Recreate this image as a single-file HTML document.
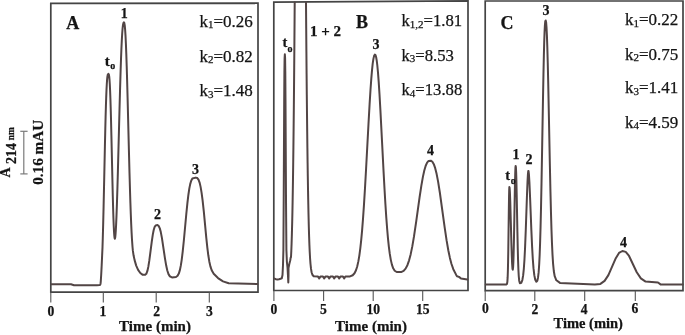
<!DOCTYPE html>
<html><head><meta charset="utf-8"><style>
html,body{margin:0;padding:0;background:#fff;width:685px;height:335px;overflow:hidden}
svg{display:block;filter:blur(0.35px)}
text{font-family:"Liberation Serif",serif;fill:#141414;stroke:#141414;stroke-width:0.25px}
.b{font-weight:bold}
</style></head><body>
<svg width="685" height="335" viewBox="0 0 685 335">
<rect width="685" height="335" fill="#fff"/>
<!-- scale bar / y label -->
<g stroke="#7a7a7a" stroke-width="1.2" fill="none">
<line x1="23.8" y1="131.3" x2="23.8" y2="173.9"/>
<line x1="20.3" y1="131.3" x2="27.6" y2="131.3"/>
<line x1="20.3" y1="173.9" x2="27.6" y2="173.9"/>
</g>
<text class="b" transform="translate(10.2,177.6) rotate(-90)" font-size="14">A<tspan dx="3.6" dy="5.5">214</tspan><tspan font-size="9.3" dx="2.6" dy="-1.8">nm</tspan></text>
<text class="b" transform="translate(42.8,184.8) rotate(-90)" font-size="15.2">0.16 mAU</text>

<!-- frames -->
<g stroke="#444444" stroke-width="1.7" fill="none" stroke-linecap="square">
<polyline points="50.8,3.4 258,3.2 258,292.2 50.8,292.2 50.8,3.4"/>
<polyline points="273.8,2.2 468,0.9 468,290.5 273.8,290.5 273.8,2.2"/>
<polyline points="485.2,1.0 683.0,1.0 683.0,290.7 485.2,290.7 485.2,1.0"/>
</g>
<g stroke="#555" stroke-width="1.1">
<line x1="50.8" y1="292.2" x2="50.8" y2="302.5"/><line x1="103.3" y1="292.2" x2="103.3" y2="302.5"/><line x1="156.2" y1="292.2" x2="156.2" y2="302.5"/><line x1="209.3" y1="292.2" x2="209.3" y2="302.5"/>
<line x1="273.9" y1="290.5" x2="273.9" y2="301"/><line x1="323.6" y1="290.5" x2="323.6" y2="301"/><line x1="373.2" y1="290.5" x2="373.2" y2="301"/><line x1="422.7" y1="290.5" x2="422.7" y2="301"/>
<line x1="485.2" y1="290.7" x2="485.2" y2="301"/><line x1="534.8" y1="290.7" x2="534.8" y2="301"/><line x1="584.7" y1="290.7" x2="584.7" y2="301"/><line x1="635.3" y1="290.7" x2="635.3" y2="301"/>
</g>

<!-- traces -->
<g stroke="#524545" stroke-width="2.0" fill="none" stroke-linejoin="round" stroke-linecap="round">
<path d="M51.50,284.20 L71.00,284.30 L74.00,285.20 L96.90,285.15 L99.80,285.05 L100.30,284.67 L100.60,283.20 L100.80,281.04 L101.20,274.68 L101.70,264.95 L102.50,247.33 L102.80,237.79 L103.20,223.09 L103.60,206.43 L104.20,178.99 L104.90,146.30 L105.30,128.90 L105.60,117.04 L105.90,106.48 L106.20,97.39 L106.50,89.89 L106.80,83.98 L107.10,79.62 L107.40,76.66 L107.80,74.55 L108.40,73.80 L108.80,74.28 L109.20,76.46 L109.50,79.62 L109.80,84.29 L110.10,90.60 L110.40,98.56 L110.70,108.10 L111.00,119.04 L111.40,135.40 L112.40,179.74 L112.80,196.32 L113.10,207.47 L113.40,217.17 L113.70,225.20 L114.00,231.40 L114.30,235.71 L114.60,238.12 L114.90,238.70 L115.20,237.52 L115.50,234.73 L115.80,230.47 L116.10,224.88 L116.50,215.61 L116.90,204.56 L117.40,188.70 L117.90,171.10 L119.50,109.81 L120.10,87.85 L120.60,71.20 L121.00,59.34 L121.40,49.01 L121.80,40.37 L122.20,33.49 L122.60,28.39 L123.00,24.98 L123.40,23.09 L123.90,22.31 L124.30,22.86 L124.70,25.07 L125.10,29.21 L125.50,35.42 L125.90,43.70 L126.30,53.97 L126.70,66.04 L127.10,79.64 L127.60,98.28 L128.90,150.10 L129.50,172.93 L130.00,190.35 L130.40,202.94 L130.80,214.21 L131.20,224.09 L131.60,232.60 L132.00,239.79 L132.50,246.75 L132.90,250.90 L133.60,255.58 L134.60,260.13 L136.20,265.62 L138.10,269.84 L140.30,272.99 L142.80,274.84 L145.20,274.74 L146.30,273.82 L147.40,270.94 L148.30,266.89 L149.30,260.68 L151.80,241.42 L152.80,234.67 L153.70,230.06 L154.60,227.05 L155.60,225.42 L157.50,225.05 L158.70,225.98 L159.80,228.37 L160.80,232.10 L161.90,237.85 L165.00,258.58 L166.20,265.59 L167.30,270.51 L168.50,274.11 L169.90,276.37 L172.00,277.43 L176.00,276.95 L177.60,275.79 L178.80,273.60 L179.80,270.42 L180.80,265.66 L181.70,259.84 L182.70,251.70 L183.90,239.98 L186.30,214.03 L187.40,203.14 L188.40,194.74 L189.30,188.68 L190.20,184.11 L191.20,180.69 L192.40,178.50 L195.70,177.60 L197.30,178.05 L198.50,179.63 L199.60,182.59 L200.60,186.87 L201.60,192.82 L202.60,200.44 L203.80,211.48 L206.30,237.79 L207.30,247.35 L208.30,255.28 L209.30,261.46 L210.40,266.40 L211.70,270.29 L213.70,273.83 L218.00,278.08 L223.00,281.36 L228.70,283.23 L257.30,284.10"/>
<path d="M274.50,278.60 L276.00,279.20 L277.50,279.60 L279.00,279.30 L280.50,278.80 L281.80,278.30 L282.50,275.00 L283.00,265.00 L283.40,250.00 L283.70,200.00 L283.95,150.00 L284.20,100.00 L284.40,72.00 L284.60,58.00 L284.85,54.30 L285.10,58.00 L285.30,72.00 L285.50,100.00 L285.75,150.00 L286.00,200.00 L286.40,250.00 L286.90,262.00 L287.50,267.50 L288.00,276.00 L288.30,282.40 L288.50,276.00 L288.50,268.00 L289.30,264.00 L290.20,260.50 L290.70,257.50 L291.00,257.22 L291.30,250.97 L291.60,243.19 L291.90,233.58 L292.20,221.87 L292.40,212.73 L292.60,202.42 L292.80,190.85 L293.00,177.91 L293.20,163.53 L293.40,147.62 L293.60,130.10 L293.80,110.92 L294.00,90.01 L294.20,67.34 L294.40,42.90 L294.60,16.67 L294.70,2.90 L294.80,2.60 M306.00,2.60 L306.20,27.99 L306.40,51.85 L306.60,74.15 L306.80,94.89 L307.00,114.10 L307.20,131.80 L307.40,148.03 L307.60,162.87 L307.80,176.35 L308.00,188.57 L308.20,199.58 L308.50,214.00 L308.80,226.16 L309.10,236.29 L309.40,244.67 L309.70,251.53 L310.10,258.69 L310.50,264.01 L311.00,268.69 L311.60,272.24 L312.40,274.77 L313.70,276.26 L318.00,276.60 L319.20,278.40 L320.40,276.60 L323.00,276.60 L324.20,278.40 L325.40,276.60 L328.00,276.60 L329.20,278.40 L330.40,276.60 L333.00,276.60 L334.20,278.40 L335.40,276.60 L338.00,276.60 L339.20,278.40 L340.40,276.60 L343.00,276.59 L344.20,278.38 L345.40,276.57 L350.00,276.46 L352.70,275.24 L354.50,273.24 L356.00,270.23 L357.20,266.48 L358.30,261.65 L359.30,255.81 L360.30,248.36 L361.20,240.11 L362.10,230.30 L363.00,218.87 L363.90,205.88 L364.90,189.77 L366.10,168.56 L368.50,123.68 L369.60,104.17 L370.50,89.75 L371.30,78.57 L372.00,70.33 L372.70,63.73 L373.40,58.89 L374.10,55.87 L374.80,54.65 L375.50,55.09 L376.10,56.99 L376.70,60.38 L377.30,65.25 L378.00,72.71 L378.70,81.93 L379.50,94.31 L380.40,110.09 L382.00,140.96 L383.50,170.34 L384.50,188.78 L385.40,204.00 L386.30,217.63 L387.10,228.28 L388.00,238.55 L388.90,247.06 L389.80,253.94 L390.80,259.87 L391.90,264.62 L393.20,268.33 L394.70,270.75 L396.70,272.00 L401.10,272.04 L403.60,270.90 L405.60,268.65 L407.40,265.19 L409.10,260.34 L410.70,254.17 L412.30,246.38 L414.00,236.43 L416.30,220.85 L419.60,197.14 L421.40,185.31 L422.90,176.87 L424.30,170.49 L425.70,165.73 L427.10,162.62 L428.60,160.95 L430.80,160.69 L432.40,161.77 L433.80,164.16 L435.20,168.16 L436.60,173.82 L438.10,181.62 L439.80,192.28 L444.70,227.65 L446.60,240.38 L448.30,250.24 L449.90,257.92 L451.50,264.01 L453.30,269.19 L456.20,274.92 L457.00,276.19 L459.00,276.87 L461.00,278.60 L467.30,279.53"/>
<path d="M485.80,284.60 L506.10,284.59 L506.95,284.00 L507.35,281.87 L507.65,277.42 L507.90,270.23 L508.10,261.42 L508.30,249.67 L508.85,208.82 L509.05,196.32 L509.20,189.99 L509.35,187.09 L509.60,187.89 L509.90,192.35 L510.25,201.49 L510.85,223.13 L511.40,243.74 L511.80,256.20 L512.15,264.20 L512.50,268.86 L512.80,269.73 L513.10,267.29 L513.35,262.43 L513.60,254.84 L513.90,242.24 L514.30,220.76 L514.75,194.67 L515.00,182.03 L515.25,172.46 L515.45,167.72 L515.65,165.89 L515.90,167.27 L516.15,172.40 L516.40,180.94 L516.75,197.17 L517.40,231.76 L517.75,248.21 L518.05,259.62 L518.40,269.48 L518.75,276.01 L519.20,280.70 L519.90,283.28 L521.25,282.89 L522.35,280.04 L523.15,275.44 L523.85,268.53 L524.45,259.75 L525.05,247.95 L525.75,230.49 L527.00,194.59 L527.50,182.11 L527.90,174.72 L528.25,171.07 L528.55,171.05 L528.95,174.71 L529.45,183.08 L530.20,200.44 L531.35,229.87 L532.10,246.62 L532.80,259.03 L533.50,268.17 L534.30,275.14 L535.25,279.75 L536.35,281.68 L537.30,280.73 L538.05,277.44 L538.65,272.16 L539.20,264.29 L539.65,255.04 L540.10,242.79 L540.55,227.23 L541.00,208.31 L541.50,183.67 L542.20,144.54 L543.00,98.27 L543.45,74.40 L543.85,55.95 L544.20,42.64 L544.55,32.37 L544.90,25.35 L545.25,21.51 L545.70,20.44 L546.10,22.17 L546.50,26.98 L546.90,35.09 L547.30,46.44 L547.75,62.73 L548.25,84.37 L549.85,163.93 L550.45,191.62 L550.95,211.82 L551.45,228.91 L551.95,242.79 L552.50,254.59 L553.10,263.87 L553.80,271.00 L554.70,276.23 L556.35,280.27 L560.00,282.93 L594.85,284.56 L600.40,283.89 L604.60,280.89 L608.40,275.12 L615.80,258.15 L619.00,252.94 L622.40,251.00 L625.75,251.85 L629.05,255.97 L636.75,272.23 L640.85,278.35 L645.60,281.58 L658.00,282.50 L660.50,284.40 L682.80,284.40"/>
</g>

<!-- Panel A text -->
<text class="b" x="66.3" y="28.8" font-size="18">A</text>
<text x="199.5" y="27" font-size="17">k<tspan font-size="11" dy="1.4">1</tspan><tspan dy="-1.4">=0.26</tspan></text>
<text x="199.5" y="61.6" font-size="17">k<tspan font-size="11" dy="1.4">2</tspan><tspan dy="-1.4">=0.82</tspan></text>
<text x="199.5" y="96.2" font-size="17">k<tspan font-size="11" dy="1.4">3</tspan><tspan dy="-1.4">=1.48</tspan></text>
<text class="b" x="104.8" y="65.5" font-size="15">t<tspan font-size="10" dx="0.4" dy="3.5">o</tspan></text>
<g class="b" font-size="14" text-anchor="middle">
<text class="b" x="124.2" y="17.6">1</text>
<text class="b" x="157.5" y="219.3">2</text>
<text class="b" x="195.6" y="173.6">3</text>
</g>
<g class="b" font-size="13.6" text-anchor="middle">
<text class="b" x="51" y="315.6">0</text>
<text class="b" x="102.8" y="315.9">1</text>
<text class="b" x="156.6" y="316.1">2</text>
<text class="b" x="209.3" y="316.1">3</text>
</g>
<text class="b" x="155" y="331" font-size="15" text-anchor="middle">Time (min)</text>

<!-- Panel B text -->
<text class="b" x="356" y="28.3" font-size="18">B</text>
<text class="b" x="325.5" y="35.6" font-size="15" text-anchor="middle">1 + 2</text>
<text class="b" x="282.4" y="47.0" font-size="14.5">t<tspan font-size="10" dx="0.2" dy="4.6">o</tspan></text>
<text x="401.5" y="26.3" font-size="16.7">k<tspan font-size="11" dy="1.4">1,2</tspan><tspan dy="-1.4">=1.81</tspan></text>
<text x="401.5" y="60.7" font-size="16.7">k<tspan font-size="11" dy="1.4">3</tspan><tspan dy="-1.4">=8.53</tspan></text>
<text x="401.5" y="95.2" font-size="16.7">k<tspan font-size="11" dy="1.4">4</tspan><tspan dy="-1.4">=13.88</tspan></text>
<g class="b" font-size="14" text-anchor="middle">
<text class="b" x="376" y="49.4">3</text>
<text class="b" x="430.6" y="154.8">4</text>
</g>
<g class="b" font-size="13.6" text-anchor="middle">
<text class="b" x="274" y="313.5">0</text>
<text class="b" x="323.5" y="313.5">5</text>
<text class="b" x="373.2" y="313.5">10</text>
<text class="b" x="422.8" y="313.5">15</text>
</g>
<text class="b" x="371" y="330.8" font-size="15" text-anchor="middle">Time (min)</text>

<!-- Panel C text -->
<text class="b" x="500.6" y="28.5" font-size="18">C</text>
<text x="625" y="25.1" font-size="17">k<tspan font-size="11" dy="1.4">1</tspan><tspan dy="-1.4">=0.22</tspan></text>
<text x="625" y="59.5" font-size="17">k<tspan font-size="11" dy="1.4">2</tspan><tspan dy="-1.4">=0.75</tspan></text>
<text x="625" y="93.2" font-size="17">k<tspan font-size="11" dy="1.4">3</tspan><tspan dy="-1.4">=1.41</tspan></text>
<text x="625" y="127.7" font-size="17">k<tspan font-size="11" dy="1.4">4</tspan><tspan dy="-1.4">=4.59</tspan></text>
<g class="b" font-size="14" text-anchor="middle">
<text class="b" x="546" y="14.9">3</text>
<text class="b" x="516" y="158.7">1</text>
<text class="b" x="529.1" y="163.5">2</text>
<text class="b" x="623.6" y="246.6">4</text>
</g>
<text class="b" x="505.3" y="180.3" font-size="14.5">t<tspan font-size="9.8" dx="0.7" dy="3.2">o</tspan></text>
<g class="b" font-size="13.6" text-anchor="middle">
<text class="b" x="485.3" y="313.2">0</text>
<text class="b" x="534.8" y="313.5">2</text>
<text class="b" x="584.2" y="314">4</text>
<text class="b" x="634.8" y="313">6</text>
</g>
<text class="b" x="588.2" y="327.8" font-size="14.5" text-anchor="middle">Time (min)</text>
</svg>
</body></html>
